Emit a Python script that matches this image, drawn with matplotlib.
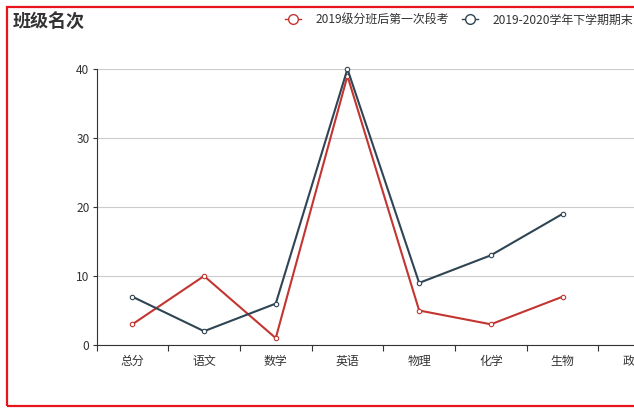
import matplotlib
matplotlib.use('Agg')
import matplotlib.pyplot as plt
import numpy as np
from matplotlib.lines import Line2D
from matplotlib.patches import Rectangle

plt.rcParams['font.family'] = ['Noto Sans CJK SC', 'DejaVu Sans']

# ------------------------------------------------------- #
subjects = ['总分', '语文', '数学', '英语', '物理', '化学', '生物', '政治']
rank_first = [3, 10, 1, 39, 5, 3, 7]      # 2019级分班后第一次段考
rank_final = [7, 2, 6, 40, 9, 13, 19]     # 2019-2020学年下学期期末
series_names = ['2019级分班后第一次段考', '2019-2020学年下学期期末']
yticks = [0, 10, 20, 30, 40]

red = '#c23531'
dark = '#2f4554'
W, H = 634, 417

fig = plt.figure(figsize=(W / 100, H / 100), dpi=100)

# plot area runs past the right edge, like the cropped original
left, right, top, bottom = 96.5, 96.5 + 8 * 71.7, 69, 345
ax = fig.add_axes([left / W, 1 - bottom / H, (right - left) / W, (bottom - top) / H])

x = np.arange(len(subjects))
for vals, c in [(rank_first, red), (rank_final, dark)]:
    ax.plot(x[:len(vals)], vals, color=c, lw=1.5, marker='o', ms=3.2,
            mfc='white', mec=c, mew=0.8, zorder=3, clip_on=False)

ax.set_xlim(-0.5, len(subjects) - 0.5)
ax.set_ylim(0, 40)
ax.set_yticks(yticks)
ax.set_xticks(x)
ax.set_xticklabels(subjects)
ax.set_xticks(np.arange(len(subjects) + 1) - 0.5, minor=True)
ax.tick_params(axis='x', which='major', length=0, pad=7, labelsize=8.6, labelcolor='#333')
ax.tick_params(axis='x', which='minor', length=4.5, width=0.8, color='#333')
ax.tick_params(axis='y', length=3, width=0.8, color='#333', pad=2, labelsize=8.6, labelcolor='#333')

ax.grid(axis='y', color='#cccccc', lw=0.8)
ax.set_axisbelow(True)
for s in ['top', 'right']:
    ax.spines[s].set_visible(False)
for s in ['left', 'bottom']:
    ax.spines[s].set_color('#333')
    ax.spines[s].set_linewidth(0.8)

fig.text(13 / W, 1 - 21 / H, '班级名次', fontsize=13, fontweight='bold',
         color='#333', ha='left', va='center')

handles = [Line2D([], [], color=c, lw=1, marker='o', ms=7, mfc='white', mec=c, mew=1)
           for c in (red, dark)]
fig.legend(handles, series_names, loc='center right', bbox_to_anchor=(633 / W, 1 - 20 / H),
           ncol=2, frameon=False, fontsize=8.6, handlelength=1.35, handletextpad=1.2,
           columnspacing=1.1, borderpad=0, borderaxespad=0, labelcolor='#333')

# red frame around the chart (right side is cropped away)
fig.patches.append(Rectangle((7 / W, 1 - 406 / H), 700 / W, 399 / H, transform=fig.transFigure,
                             fill=False, ec='#e8141c', lw=1.6, clip_on=False))

fig.savefig('out.png', dpi=100)
